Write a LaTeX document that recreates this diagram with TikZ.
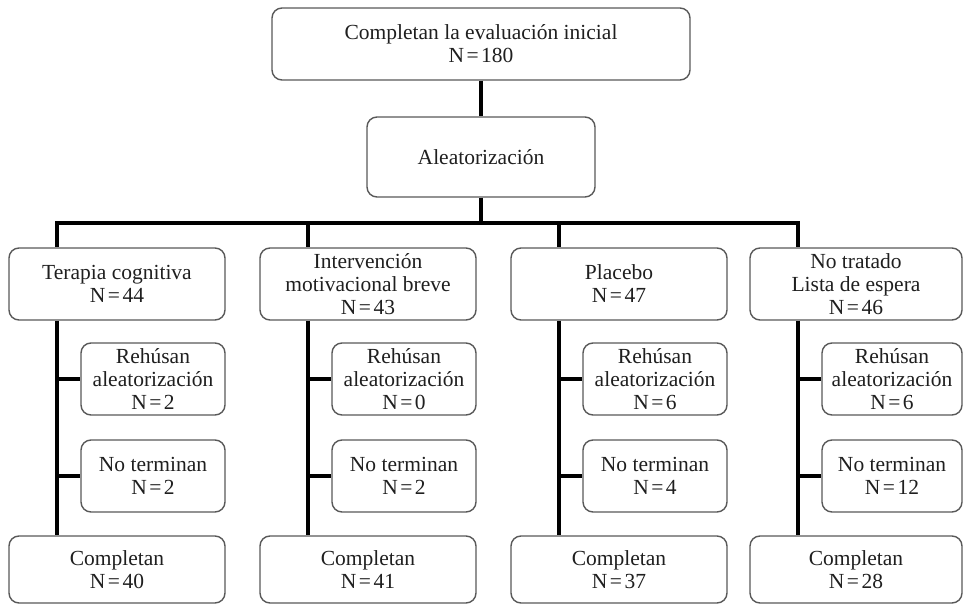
\documentclass[tikz,border=0pt]{standalone}
\usepackage{fontspec}
\setmainfont{Liberation Serif}

\newcommand{\nval}[1]{N\kern2.5pt=\kern2.5pt#1}
\tikzset{
  box/.style={draw=black!65, line width=1.4pt, rounded corners=10pt, fill=white,
    align=center, inner sep=0pt, text=black!88, font=\fontsize{21.5}{23}\selectfont},
  link/.style={line width=3.4pt, black},
}

\begin{document}
\begin{tikzpicture}[x=1pt, y=-1pt]
  \useasboundingbox (0,0) rectangle (963,604);
  % top of the chart
  \node[box, minimum width=418, minimum height=72] (eval) at (481,44) {Completan la evaluación inicial\\\nval{180}};
  \node[box, minimum width=228, minimum height=80] (alea) at (481,157) {Aleatorización};
  \draw[link] (eval.south) -- (alea.north);
  % one column per group: index/left/width/head/refuse/drop/complete
  \foreach \i/\l/\w/\head/\r/\t/\c in {
      1/9/216/{Terapia cognitiva\\\nval{44}}/2/2/40,
      2/260/216/{Intervención\\motivacional breve\\\nval{43}}/0/2/41,
      3/511/216/{Placebo\\\nval{47}}/6/4/37,
      4/750/212/{No tratado\\Lista de espera\\\nval{46}}/6/12/28} {
    \coordinate (s\i) at (\l+48,223);
    \node[box, minimum width=\w, minimum height=72] (g\i) at ({\l+\w/2},284) {\head};
    \node[box, minimum width=\w-72, minimum height=72] (r\i) at ({\l+36+\w/2},379) {Rehúsan\\aleatorización\\\nval{\r}};
    \node[box, minimum width=\w-72, minimum height=72] (t\i) at ({\l+36+\w/2},476) {No terminan\\\nval{\t}};
    \node[box, minimum width=\w, minimum height=67] (c\i) at ({\l+\w/2},569.5) {Completan\\\nval{\c}};
    \draw[link] (s\i) -- (s\i |- g\i.north);
    \draw[link] (g\i.south -| s\i) -- (c\i.north -| s\i);
    \draw[link] (r\i.west -| s\i) -- (r\i.west);
    \draw[link] (t\i.west -| s\i) -- (t\i.west);
  }
  % bus
  \draw[link, line cap=rect] (s1) -- (s4);
  \draw[link] (alea.south) -- (alea.south |- s1);
\end{tikzpicture}
\end{document}
